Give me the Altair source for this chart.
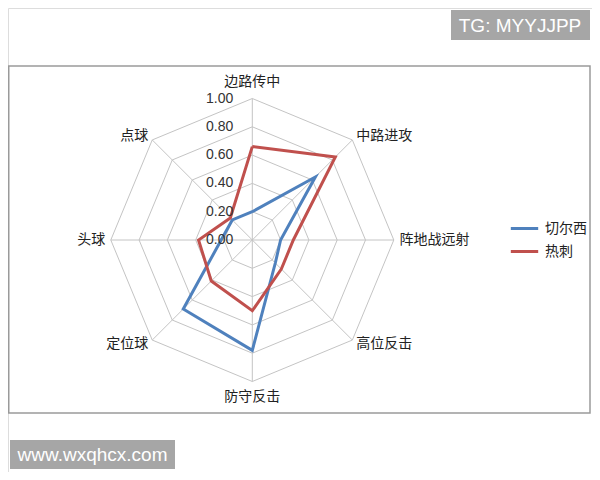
import math

import altair as alt
import pandas as pd

# data
categories = ["边路传中", "中路进攻", "阵地战远射", "高位反击", "防守反击", "定位球", "头球", "点球"]
chelsea = [0.20, 0.63, 0.20, 0.23, 0.78, 0.69, 0.22, 0.20]
spurs = [0.66, 0.83, 0.29, 0.29, 0.50, 0.41, 0.38, 0.22]
teams = ["切尔西", "热刺"]
team_colors = ["#4F81BD", "#C0504D"]
levels = [0.2, 0.4, 0.6, 0.8, 1.0]
tick_values = [0.0, 0.2, 0.4, 0.6, 0.8, 1.0]

W, H = 584, 464
UNIT = 141.5  # px per 1.00
CX, CY = 244.3, 232.0  # centre of the web inside the chart

n = len(categories)


def pos(i, r):
    a = 2 * math.pi * i / n
    return r * math.sin(a), r * math.cos(a)


# web grid
grid_rows = []
for lv in levels:
    for i in range(n + 1):
        x, y = pos(i % n, lv)
        grid_rows.append({"level": lv, "idx": i, "x": x, "y": y})
grid = pd.DataFrame(grid_rows)

spokes = pd.DataFrame(
    [{"x0": 0.0, "y0": 0.0, "x": pos(i, 1.0)[0], "y": pos(i, 1.0)[1]} for i in range(n)]
)

# series
series_rows = []
for team, vals in zip(teams, [chelsea, spurs]):
    for i in range(n + 1):
        x, y = pos(i % n, vals[i % n])
        series_rows.append({"team": team, "idx": i, "x": x, "y": y})
series = pd.DataFrame(series_rows)

# category labels
label_rows = []
for i, c in enumerate(categories):
    sx, sy = pos(i, 1.0)
    if abs(sx) < 1e-6:
        r = 1.12 if sy > 0 else 1.11
        x, y = pos(i, r)
        al = "center"
    else:
        x, y = pos(i, 1.04)
        al = "left" if sx > 0 else "right"
    label_rows.append({"cat": c, "x": x, "y": y, "align": al})
labels = pd.DataFrame(label_rows)

ticks = pd.DataFrame({"v": tick_values, "txt": [f"{v:.2f}" for v in tick_values]})
ticks["x"] = -19 / UNIT

xs = alt.Scale(domain=[-CX / UNIT, (W - CX) / UNIT], nice=False, zero=False)
ys = alt.Scale(domain=[-(H - CY) / UNIT, CY / UNIT], nice=False, zero=False)
X = lambda f: alt.X(f, type="quantitative", scale=xs, axis=None)
Y = lambda f: alt.Y(f, type="quantitative", scale=ys, axis=None)

border = alt.Chart(pd.DataFrame({"a": [0]})).mark_rect(
    fill="white", stroke="#9a9a9a", strokeWidth=1.5
).encode(x=alt.value(0.75), x2=alt.value(582), y=alt.value(58), y2=alt.value(405))

grid_lines = alt.Chart(grid).mark_line(color="#c4c4c4", strokeWidth=1).encode(
    X("x"), Y("y"), detail="level:N", order="idx:Q"
)

spoke_lines = alt.Chart(spokes).mark_rule(color="#c4c4c4", strokeWidth=1).encode(
    X("x0"), Y("y0"), x2="x", y2="y"
)

team_lines = alt.Chart(series).mark_line(strokeWidth=3).encode(
    X("x"),
    Y("y"),
    order="idx:Q",
    color=alt.Color(
        "team:N",
        scale=alt.Scale(domain=teams, range=team_colors),
        legend=alt.Legend(
            title=None,
            orient="none",
            legendX=501,
            legendY=205,
            symbolType="stroke",
            symbolSize=750,
            symbolStrokeWidth=3,
            rowPadding=0,
            padding=0,
            labelOffset=5,
            labelFontSize=14,
            labelFont="Noto Sans CJK SC",
            labelColor="#222222",
        ),
    ),
)

cat_text = []
for al in ["left", "center", "right"]:
    cat_text.append(
        alt.Chart(labels)
        .transform_filter(alt.datum.align == al)
        .mark_text(align=al, baseline="middle", fontSize=14, font="Noto Sans CJK SC", color="#222222")
        .encode(X("x"), Y("y"), text="cat:N")
    )

tick_text = alt.Chart(ticks).mark_text(
    align="right", baseline="middle", fontSize=14, font="Liberation Sans", color="#333333"
).encode(X("x"), Y("v"), text="txt:N")

wm_top = alt.Chart(pd.DataFrame({"t": ["TG: MYYJJPP"]}))
wm_top_box = wm_top.mark_rect(fill="#a6a6a6").encode(
    x=alt.value(443), x2=alt.value(582), y=alt.value(2), y2=alt.value(32)
)
wm_top_txt = wm_top.mark_text(
    align="center", baseline="middle", fontSize=19, font="Liberation Sans", color="white"
).encode(x=alt.value(512), y=alt.value(18), text="t:N")

wm_bot = alt.Chart(pd.DataFrame({"t": ["www.wxqhcx.com"]}))
wm_bot_box = wm_bot.mark_rect(fill="#a6a6a6").encode(
    x=alt.value(2), x2=alt.value(167), y=alt.value(432), y2=alt.value(461)
)
wm_bot_txt = wm_bot.mark_text(
    align="center", baseline="middle", fontSize=19, font="Liberation Sans", color="white"
).encode(x=alt.value(84.5), y=alt.value(447), text="t:N")

chart = (
    alt.layer(
        border,
        grid_lines,
        spoke_lines,
        team_lines,
        *cat_text,
        tick_text,
        wm_top_box,
        wm_top_txt,
        wm_bot_box,
        wm_bot_txt,
    )
    .properties(width=W, height=H, autosize=alt.AutoSizeParams(type="none"), padding=0)
    .configure_view(stroke="transparent", strokeWidth=0)
    .configure(background="white")
)

chart.save("out.html", embed_options={"renderer": "svg", "actions": False})
